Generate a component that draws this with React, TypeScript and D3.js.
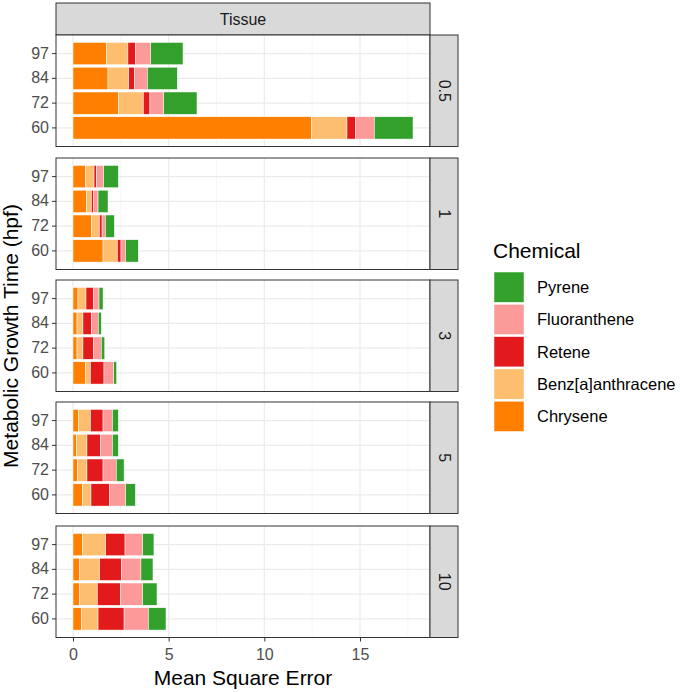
import * as React from 'react';
import * as d3 from 'd3';

// facet rows (strip labels on the right)
const doses = ['0.5', '1', '3', '5', '10'];
const times = ['97', '84', '72', '60'];
const chemicals = ['Chrysene', 'Benz[a]anthracene', 'Retene', 'Fluoranthene', 'Pyrene'];
const chemColors = ['#ff7f00', '#fdbf6f', '#e31a1c', '#fb9a99', '#33a02c'];

// segment values per dose, rows = times (97, 84, 72, 60), cols = chemicals
const dose05 = [
  [1.74, 1.13, 0.39, 0.80, 1.69],
  [1.83, 1.08, 0.31, 0.67, 1.56],
  [2.39, 1.29, 0.34, 0.72, 1.74],
  [12.46, 1.86, 0.45, 0.98, 2.02],
];
const dose1 = [
  [0.64, 0.46, 0.12, 0.38, 0.77],
  [0.70, 0.26, 0.12, 0.23, 0.52],
  [0.98, 0.40, 0.14, 0.17, 0.47],
  [1.57, 0.75, 0.19, 0.23, 0.67],
];
const dose3 = [
  [0.26, 0.42, 0.40, 0.28, 0.21],
  [0.21, 0.31, 0.44, 0.36, 0.16],
  [0.21, 0.31, 0.56, 0.40, 0.18],
  [0.64, 0.27, 0.71, 0.51, 0.15],
];
const dose5 = [
  [0.28, 0.63, 0.66, 0.49, 0.31],
  [0.19, 0.54, 0.72, 0.61, 0.31],
  [0.23, 0.50, 0.84, 0.69, 0.41],
  [0.49, 0.45, 0.98, 0.83, 0.51],
];
const dose10 = [
  [0.51, 1.20, 1.01, 0.92, 0.59],
  [0.35, 1.04, 1.15, 1.01, 0.63],
  [0.35, 0.92, 1.22, 1.15, 0.75],
  [0.44, 0.87, 1.36, 1.27, 0.92],
];
const doseValues = [dose05, dose1, dose3, dose5, dose10];
const xTicks = [0, 5, 10, 15];
const xMinor = [2.5, 7.5, 12.5, 17.5];

const W = 680;
const H = 692;
const font = 'Liberation Sans, Arial, sans-serif';

const App: React.FC = () => {
  const svgRef = React.useRef<SVGSVGElement>(null);

  React.useEffect(() => {
    const svg = d3.select(svgRef.current);
    svg.selectAll('*').remove();

    const left = 56, right = 430;
    const panelTops = [35, 158, 280, 402, 526];
    const panelH = 111.5;

    const maxTotal = d3.max(doseValues.flatMap(d => d.map(r => d3.sum(r)))) as number;
    const pad = maxTotal * 0.05;
    const x = d3.scaleLinear().domain([-pad, maxTotal + pad]).range([left, right]);

    // top strip
    svg.append('rect').attr('x', left).attr('y', 3).attr('width', right - left).attr('height', 32)
      .attr('fill', '#d9d9d9').attr('stroke', '#333').attr('stroke-width', 1);
    svg.append('text').attr('x', (left + right) / 2).attr('y', 25).attr('text-anchor', 'middle')
      .attr('font-family', font).attr('font-size', 16).attr('fill', '#1a1a1a').text('Tissue');

    doses.forEach((dose, di) => {
      const top = panelTops[di];
      const y = d3.scaleBand().domain(times).range([top, top + panelH]).paddingOuter(0.3).paddingInner(0.1);
      const g = svg.append('g');

      g.append('rect').attr('x', left).attr('y', top).attr('width', right - left).attr('height', panelH).attr('fill', '#fff');

      g.selectAll('.minor').data(xMinor).enter().append('line')
        .attr('x1', d => x(d)).attr('x2', d => x(d)).attr('y1', top).attr('y2', top + panelH)
        .attr('stroke', '#f2f2f2').attr('stroke-width', 0.6);
      g.selectAll('.major').data(xTicks).enter().append('line')
        .attr('x1', d => x(d)).attr('x2', d => x(d)).attr('y1', top).attr('y2', top + panelH)
        .attr('stroke', '#ebebeb').attr('stroke-width', 1.2);
      g.selectAll('.hgrid').data(times).enter().append('line')
        .attr('x1', left).attr('x2', right)
        .attr('y1', d => (y(d) as number) + y.bandwidth() / 2).attr('y2', d => (y(d) as number) + y.bandwidth() / 2)
        .attr('stroke', '#ebebeb').attr('stroke-width', 1.2);

      // stacked bars
      const rows = doseValues[di];
      times.forEach((t, ti) => {
        let acc = 0;
        rows[ti].forEach((v, ci) => {
          g.append('rect')
            .attr('x', x(acc)).attr('width', x(acc + v) - x(acc))
            .attr('y', y(t) as number).attr('height', y.bandwidth())
            .attr('fill', chemColors[ci]).attr('stroke', '#fff').attr('stroke-width', 0.5);
          acc += v;
        });
      });

      g.append('rect').attr('x', left).attr('y', top).attr('width', right - left).attr('height', panelH)
        .attr('fill', 'none').attr('stroke', '#333').attr('stroke-width', 1);

      // right strip
      g.append('rect').attr('x', right).attr('y', top).attr('width', 28).attr('height', panelH)
        .attr('fill', '#d9d9d9').attr('stroke', '#333').attr('stroke-width', 1);
      g.append('text').attr('transform', `translate(${right + 8.5},${top + panelH / 2}) rotate(90)`)
        .attr('text-anchor', 'middle').attr('font-family', font).attr('font-size', 16).attr('fill', '#1a1a1a')
        .text(dose);

      // y axis
      const ya = g.append('g').attr('transform', `translate(${left},0)`)
        .call(d3.axisLeft(y).tickSize(4).tickPadding(3));
      ya.select('.domain').remove();
      ya.selectAll('line').attr('stroke', '#333');
      ya.selectAll('text').attr('font-family', font).attr('font-size', 16).attr('fill', '#4d4d4d');

      if (di === doses.length - 1) {
        const xa = g.append('g').attr('transform', `translate(0,${top + panelH})`)
          .call(d3.axisBottom(x).tickValues(xTicks).tickSize(4).tickPadding(7));
        xa.select('.domain').remove();
        xa.selectAll('line').attr('stroke', '#333');
        xa.selectAll('text').attr('font-family', font).attr('font-size', 16).attr('fill', '#4d4d4d');
      }
    });

    svg.append('text').attr('x', (left + right) / 2).attr('y', 685).attr('text-anchor', 'middle')
      .attr('font-family', font).attr('font-size', 21).attr('fill', '#000').text('Mean Square Error');
    svg.append('text').attr('transform', `translate(18,${(35 + 637) / 2}) rotate(-90)`).attr('text-anchor', 'middle')
      .attr('font-family', font).attr('font-size', 21).attr('fill', '#000').text('Metabolic Growth Time (hpf)');

    // legend
    const lg = svg.append('g').attr('transform', 'translate(494,258)');
    lg.append('text').attr('x', -1).attr('y', 0).attr('font-family', font).attr('font-size', 21).attr('fill', '#000').text('Chemical');
    const legendOrder = chemicals.map((c, i) => ({ c, col: chemColors[i] })).reverse();
    legendOrder.forEach((d, i) => {
      lg.append('rect').attr('x', 0).attr('y', 14 + i * 32.3).attr('width', 30).attr('height', 30.3)
        .attr('fill', d.col).attr('stroke', '#fff').attr('stroke-width', 0.5);
      lg.append('text').attr('x', 43).attr('y', 14 + i * 32.3 + 21).attr('font-family', font)
        .attr('font-size', 16.5).attr('fill', '#000').text(d.c);
    });
  }, []);

  return (
    <svg ref={svgRef} width={W} height={H} style={{ position: 'absolute', left: 0, top: 0, background: '#fff' }}></svg>
  );
};

export default App;
